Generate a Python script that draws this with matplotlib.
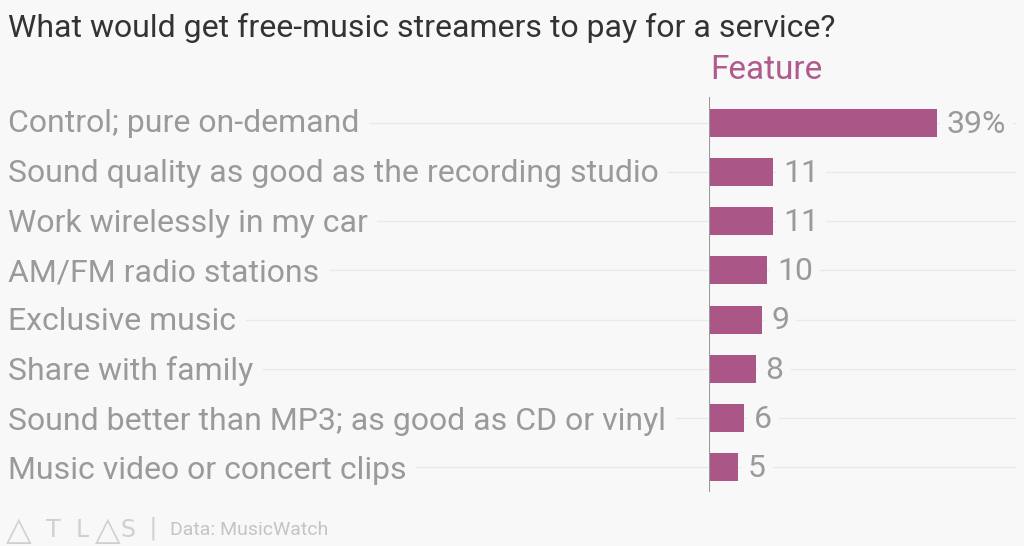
import matplotlib.pyplot as plt
import numpy as np

features = [
    "Control; pure on-demand",
    "Sound quality as good as the recording studio",
    "Work wirelessly in my car",
    "AM/FM radio stations",
    "Exclusive music",
    "Share with family",
    "Sound better than MP3; as good as CD or vinyl",
    "Music video or concert clips",
]
shares = [39, 11, 11, 10, 9, 8, 6, 5]
value_labels = ["39%", "11", "11", "10", "9", "8", "6", "5"]

bg = "#f8f8f8"
bar_color = "#aa5787"
gray = "#9a9a9a"
plt.rcParams['font.family'] = ['Roboto', 'DejaVu Sans']

fig = plt.figure(figsize=(10.24, 5.46), dpi=100, facecolor=bg)
ax = fig.add_axes([709 / 1024, 1 - 492 / 546, 306 / 1024, 395 / 546])
ax.set_facecolor(bg)

y = np.arange(len(features))
px_per_unit = 228 / 39
ax.set_xlim(0, 306 / px_per_unit)
ax.set_ylim(len(features) - 1 + 0.505, -0.525)

# grid lines running across the whole row, behind the labels
left_ext = (8 - 709) / 306
for yi in y:
    ax.axhline(yi, xmin=left_ext, xmax=1, color="#e9e9e9", lw=1.0, clip_on=False, zorder=0)

ax.barh(y, shares, height=0.57, color=bar_color, zorder=2)

for yi, name in zip(y, features):
    fig.text(8 / 1024, 1 - (124 + 49.5 * yi) / 546, name, fontsize=23, color=gray,
             va="center", ha="left",
             bbox=dict(facecolor=bg, edgecolor="none", pad=7))

for yi, v, lab in zip(y, shares, value_labels):
    ax.annotate(lab, (v, yi), xytext=(7, -1), textcoords="offset points",
                fontsize=23, color=gray, va="center", ha="left", zorder=3,
                bbox=dict(facecolor=bg, edgecolor="none", pad=5))

ax.axvline(0, color="#999999", lw=1.5, zorder=4)
for s in ax.spines.values():
    s.set_visible(False)
ax.set_xticks([])
ax.set_yticks([])

fig.text(8 / 1024, 1 - 28 / 546, "What would get free-music streamers to pay for a service?",
         fontsize=23, color="#333333", va="center", ha="left")
fig.text(710 / 1024, 1 - 70 / 546, "Feature", fontsize=24, color="#b05a8e",
         va="center", ha="left")

# footer
for letter, xpx, fs in zip(["\u25b3", "T", "L", "\u25b3", "S"], [6, 46, 76, 95, 120],
                           [24, 17, 17, 24, 17]):
    fig.text(xpx / 1024, 1 - 530 / 546, letter, fontsize=fs, color="#d0d0d0",
             va="center", ha="left", family=['DejaVu Sans'])
fig.text(150 / 1024, 1 - 529 / 546, "|", fontsize=20, color="#d0d0d0", va="center", ha="left")
fig.text(170 / 1024, 1 - 530 / 546, "Data: MusicWatch", fontsize=14, color="#c4c4c4",
         va="center", ha="left")

fig.savefig("out.png", dpi=100, facecolor=bg)
